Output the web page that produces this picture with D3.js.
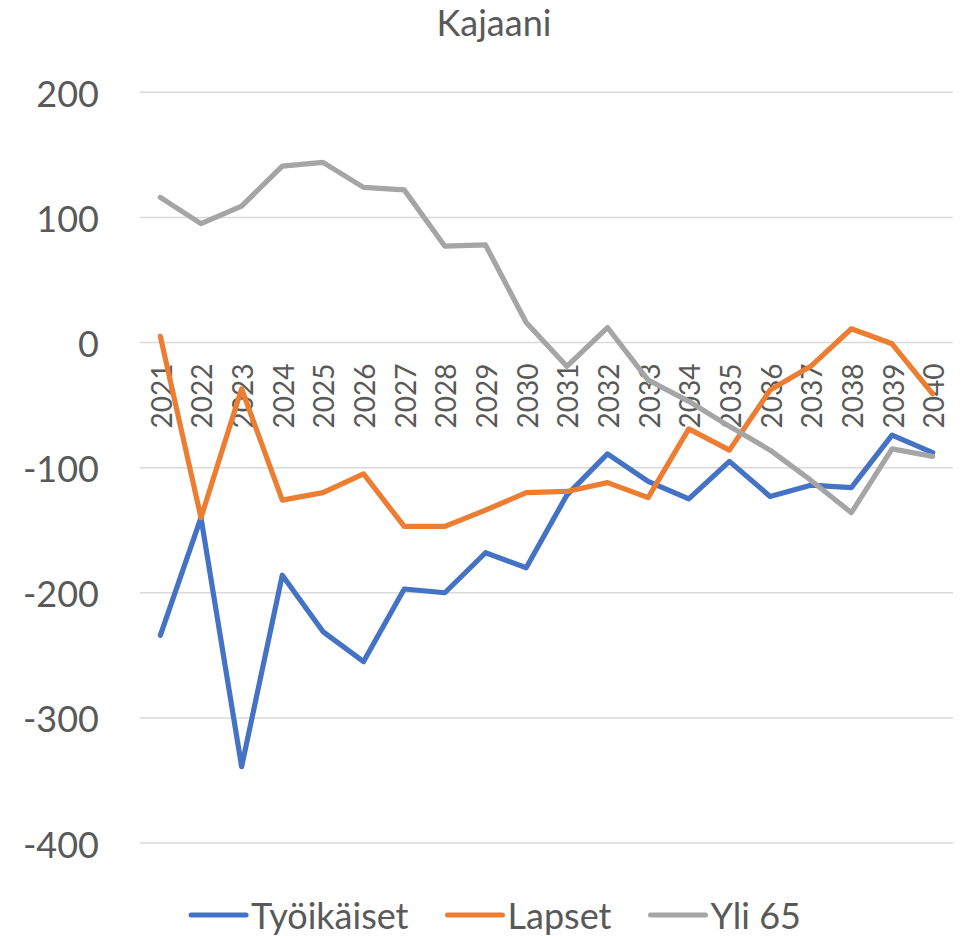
<!DOCTYPE html>
<html>
<head>
<meta charset="utf-8">
<script src="https://cdn.jsdelivr.net/npm/d3@7"></script>
<style>
  html, body { margin: 0; padding: 0; background: #fff; }
  svg { display: block; }
  text { font-family: Lato, "Open Sans", sans-serif; fill: #595959; }
</style>
</head>
<body>
<svg id="chart" width="964" height="936"></svg>
<script>
const title = "Kajaani";
const years = ["2021","2022","2023","2024","2025","2026","2027","2028","2029","2030",
               "2031","2032","2033","2034","2035","2036","2037","2038","2039","2040"];
const tyoikaiset = [-234, -140, -339, -186, -231, -255, -197, -200, -168, -180,
                    -122, -89, -111, -125, -95, -123, -114, -116, -74, -88];
const lapset = [5, -140, -37, -126, -120, -105, -147, -147, -134, -120,
                -119, -112, -124, -69, -86, -38, -19, 11, -1, -41];
const yli65 = [116, 95, 109, 141, 144, 124, 122, 77, 78, 16,
               -19, 12, -30, -47, -67, -86, -110, -136, -85, -91];
const seriesNames = ["Työikäiset", "Lapset", "Yli 65"];
const seriesColors = ["#4472C4", "#ED7D31", "#A5A5A5"];
const yTicks = [200, 100, 0, -100, -200, -300, -400];

const series = [tyoikaiset, lapset, yli65].map((vals, i) => ({
  name: seriesNames[i], color: seriesColors[i], values: vals
}));

const svg = d3.select("#chart");
const plot = { left: 140, right: 953, top: 92.3, bottom: 843 };

const x = d3.scalePoint().domain(years).range([plot.left, plot.right]).padding(0.5);
const y = d3.scaleLinear().domain([-400, 200]).range([plot.bottom, plot.top]);

// Gridlines
svg.append("g").selectAll("line").data(yTicks).join("line")
  .attr("x1", plot.left).attr("x2", plot.right)
  .attr("y1", d => y(d)).attr("y2", d => y(d))
  .attr("stroke", "#D9D9D9").attr("stroke-width", 1.5);

// Y axis labels
const yAxis = d3.axisLeft(y).tickValues(yTicks).tickSize(0).tickPadding(0).tickFormat(d => String(d));
const yg = svg.append("g").attr("transform", `translate(99,0)`).call(yAxis);
yg.select(".domain").remove();
yg.selectAll("text")
  .attr("x", 0).attr("dy", null)
  .attr("dominant-baseline", "central")
  .style("font-size", "36px").style("font-family", "Lato, 'Open Sans', sans-serif").attr("fill", "#595959");

// X axis labels (rotated) positioned below the zero line
const xAxis = d3.axisBottom(x).tickSize(0).tickPadding(0);
const xg = svg.append("g").attr("transform", `translate(0,${y(0)})`).call(xAxis);
xg.select(".domain").remove();
xg.selectAll("text")
  .attr("y", 0).attr("x", 0).attr("dy", null)
  .attr("transform", "translate(0,21) rotate(-90)")
  .attr("text-anchor", "end")
  .attr("dominant-baseline", "central")
  .style("font-size", "28px").style("font-family", "Lato, 'Open Sans', sans-serif").attr("fill", "#595959");

// Lines
const line = d3.line().x((d, i) => x(years[i])).y(d => y(d));
svg.append("g").selectAll("path").data(series).join("path")
  .attr("d", d => line(d.values))
  .attr("fill", "none")
  .attr("stroke", d => d.color)
  .attr("stroke-width", 5.2)
  .attr("stroke-linejoin", "round")
  .attr("stroke-linecap", "round");

// Title
svg.append("text").attr("x", 494).attr("y", 36)
  .attr("text-anchor", "middle")
  .style("font-size", "36px").text(title);

// Legend
const legend = svg.append("g");
const items = legend.selectAll("g").data(series).join("g");
items.append("line").attr("x1", 0).attr("x2", 55).attr("y1", 0).attr("y2", 0)
  .attr("stroke", d => d.color).attr("stroke-width", 5).attr("stroke-linecap", "round");
items.append("text").attr("x", 60).attr("y", 0)
  .attr("dominant-baseline", "central")
  .style("font-size", "36px").text(d => d.name);
let cx = 0;
const pos = [];
items.each(function(d) {
  const w = 60 + this.querySelector("text").getComputedTextLength();
  pos.push(cx);
  cx += w + 39;
});
const total = cx - 39;
const startX = 496 - total / 2;
items.attr("transform", (d, i) => `translate(${startX + pos[i]},915)`);
</script>
</body>
</html>
